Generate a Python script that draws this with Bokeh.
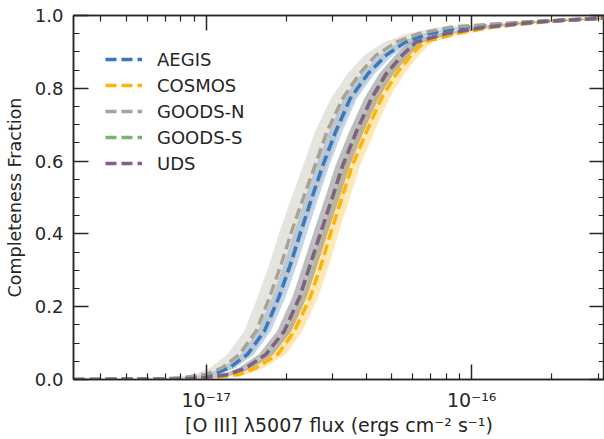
import numpy as np
from bokeh.plotting import figure
from bokeh.models import (Range1d, FixedTicker, SingleIntervalTicker, LinearAxis, LogAxis,
                          CustomJSTickFormatter, PrintfTickFormatter)
from bokeh.embed import file_html
from bokeh.resources import INLINE

# ---------------- data ----------------
fields = ["AEGIS", "COSMOS", "GOODS-N", "GOODS-S", "UDS"]
colors = ["#3778bf", "#feb308", "#a8a495", "#7bb274", "#825f87"]

# completeness levels shared by all curves
completeness = [0.0, 0.001, 0.004, 0.014, 0.032, 0.069, 0.133, 0.225, 0.316, 0.408,
                0.5, 0.588, 0.68, 0.772, 0.84, 0.891, 0.927, 0.95, 0.968, 0.983, 0.993]

# log10 flux (ergs cm^-2 s^-1) at which each field reaches those levels
logflux_aegis = [-17.50, -17.17, -17.07, -16.975, -16.913, -16.845, -16.781, -16.727, -16.683, -16.643,
                 -16.602, -16.561, -16.513, -16.458, -16.391, -16.322, -16.250, -16.16, -16.02, -15.76, -15.50]
logflux_cosmos = [-17.50, -17.08, -16.98, -16.875, -16.812, -16.731, -16.668, -16.609, -16.567, -16.529,
                  -16.489, -16.450, -16.397, -16.341, -16.284, -16.228, -16.180, -16.06, -15.92, -15.72, -15.50]
logflux_goodsn = [-17.50, -17.20, -17.10, -17.00, -16.940, -16.875, -16.812, -16.762, -16.718, -16.678,
                  -16.634, -16.590, -16.546, -16.486, -16.423, -16.360, -16.284, -16.200, -16.08, -15.79, -15.50]
logflux_goodss = [-17.50, -17.12, -17.02, -16.913, -16.850, -16.775, -16.706, -16.649, -16.608, -16.567,
                  -16.525, -16.486, -16.435, -16.378, -16.322, -16.262, -16.210, -16.10, -15.95, -15.74, -15.50]
logflux_uds = [-17.50, -17.12, -17.02, -16.913, -16.850, -16.775, -16.706, -16.649, -16.608, -16.567,
               -16.525, -16.486, -16.435, -16.378, -16.322, -16.262, -16.210, -16.10, -15.95, -15.74, -15.50]

# half width of the shaded uncertainty band (dex in flux)
band_dex = [0.025, 0.03, 0.045, 0.027, 0.027]

x_ticks = [1e-17, 1e-16]
y_tick_step = 0.2
x_label = "[O III] λ5007 flux (ergs cm⁻² s⁻¹)"
y_label = "Completeness Fraction"

curves = [logflux_aegis, logflux_cosmos, logflux_goodsn, logflux_goodss, logflux_uds]

# ---------------- figure ----------------
FONT = "DejaVu Sans"
INK = "#262626"

p = figure(width=604, height=439, x_axis_type="log",
           x_range=Range1d(10 ** -17.5, 10 ** -15.5), y_range=Range1d(0, 1.0),
           output_backend="svg", toolbar_location=None,
           min_border_left=73, min_border_right=0, min_border_top=15, min_border_bottom=60)
p.background_fill_color = "white"
p.border_fill_color = "white"
p.outline_line_color = INK
p.outline_line_width = 1.5
p.xgrid.grid_line_color = None
p.ygrid.grid_line_color = None

minor_x = [m * d for d in [1e-18, 1e-17, 1e-16] for m in range(2, 10)]
xticker = FixedTicker(ticks=x_ticks, minor_ticks=minor_x)
yticker = SingleIntervalTicker(interval=y_tick_step, num_minor_ticks=4)
blank_fmt = CustomJSTickFormatter(code="return '';")
sup_fmt = CustomJSTickFormatter(code="""
const sup = {"-":"\u207b","0":"\u2070","1":"\u00b9","2":"\u00b2","3":"\u00b3","4":"\u2074",
             "5":"\u2075","6":"\u2076","7":"\u2077","8":"\u2078","9":"\u2079"};
const e = Math.round(Math.log10(tick));
return "10" + String(e).split("").map(c => sup[c]).join("");
""")

def style_axis(ax, show_labels):
    ax.axis_line_color = INK
    ax.axis_line_width = 1.5
    ax.major_tick_line_color = INK
    ax.minor_tick_line_color = INK
    ax.major_tick_line_width = 1.5
    ax.minor_tick_line_width = 1.2
    ax.major_tick_in = 15
    ax.major_tick_out = 0
    ax.minor_tick_in = 6
    ax.minor_tick_out = 0
    ax.major_label_text_font = FONT
    ax.major_label_text_color = INK
    ax.major_label_text_font_size = "18px"
    if not show_labels:
        ax.formatter = blank_fmt
        ax.major_label_text_font_size = "1px"
        ax.major_label_standoff = 0

xa = p.xaxis[0]
xa.ticker = xticker
style_axis(xa, True)
xa.formatter = sup_fmt
xa.major_label_text_font_size = "19px"
xa.major_label_standoff = 9
xa.axis_label = x_label
xa.axis_label_text_font = FONT
xa.axis_label_text_font_size = "19px"
xa.axis_label_text_font_style = "normal"
xa.axis_label_text_color = INK
xa.axis_label_standoff = 0

ya = p.yaxis[0]
ya.ticker = yticker
ya.formatter = PrintfTickFormatter(format="%.1f")
style_axis(ya, True)
ya.major_label_standoff = 10
ya.axis_label = y_label
ya.axis_label_text_font = FONT
ya.axis_label_text_font_size = "17.5px"
ya.axis_label_text_font_style = "normal"
ya.axis_label_text_color = INK
ya.axis_label_standoff = 7

top = LogAxis(ticker=xticker)
style_axis(top, False)
p.add_layout(top, "above")
right = LinearAxis(ticker=yticker)
style_axis(right, False)
p.add_layout(right, "right")

# bands
for lf, col, w in zip(curves, colors, band_dex):
    lf = np.array(lf)
    p.harea(x1=10 ** (lf - w), x2=10 ** (lf + w), y=completeness,
            fill_color=col, fill_alpha=0.3)

# curves
for name, lf, col in zip(fields, curves, colors):
    p.line(10 ** np.array(lf), completeness, line_color=col, line_width=3.5,
           line_dash="11 5", legend_label=name)

lg = p.legend[0]
lg.location = (32, 203)
lg.border_line_color = None
lg.background_fill_alpha = 0
lg.padding = 0
lg.margin = 0
lg.spacing = 0
lg.glyph_width = 37
lg.glyph_height = 26
lg.label_height = 26
lg.label_standoff = 15
lg.label_text_font = FONT
lg.label_text_font_size = "18px"
lg.label_text_color = INK

open("out.html", "w").write(file_html(p, INLINE))
